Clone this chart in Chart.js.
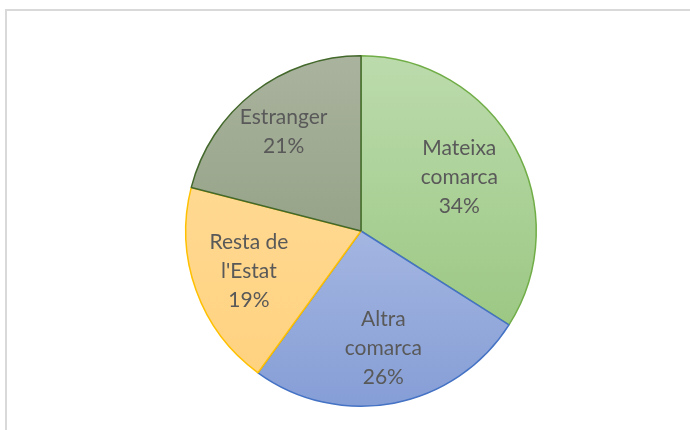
<!DOCTYPE html>
<html>
<head>
<meta charset="utf-8">
<script src="https://cdn.jsdelivr.net/npm/chart.js@4/dist/chart.umd.min.js"></script>
<style>
  html, body { margin: 0; padding: 0; background: #ffffff; }
  #wrap { width: 690px; height: 430px; position: relative; }
</style>
</head>
<body>
<div id="wrap"><canvas id="c" width="690" height="430"></canvas></div>
<script>
// Data
const categories = ["Mateixa comarca", "Altra comarca", "Resta de l'Estat", "Estranger"];
const labelLines = [["Mateixa", "comarca"], ["Altra", "comarca"], ["Resta de", "l'Estat"], ["Estranger"]];
const values = [34, 26, 19, 21];

// Styles
const gradTop = ["#bcdbad", "#c3cdec", "#ffdd9f", "#aab39e"];
const gradBottom = ["#92c277", "#859ed6", "#ffd17c", "#839473"];
const borderColors = ["#70ad47", "#4472c4", "#ffc000", "#43682b"];
const labelRadius = [0.64, 0.68, 0.68, 0.72];

function bg(ctx) {
  const chart = ctx.chart;
  const a = chart.chartArea;
  if (!a) return gradTop[ctx.dataIndex];
  const cy = (a.top + a.bottom) / 2;
  const r = Math.min(a.right - a.left, a.bottom - a.top) / 2;
  const g = chart.ctx.createLinearGradient(0, cy - r, 0, cy + r);
  g.addColorStop(0, gradTop[ctx.dataIndex]);
  g.addColorStop(1, gradBottom[ctx.dataIndex]);
  return g;
}

const framePlugin = {
  id: 'frame',
  beforeDraw(chart) {
    const c = chart.ctx;
    c.save();
    c.strokeStyle = '#d9d9d9';
    c.lineWidth = 2;
    c.beginPath();
    c.moveTo(6, 430);
    c.lineTo(6, 10);
    c.lineTo(690, 10);
    c.stroke();
    c.restore();
  }
};

const labelPlugin = {
  id: 'sliceLabels',
  afterDatasetsDraw(chart) {
    const c = chart.ctx;
    const meta = chart.getDatasetMeta(0);
    const total = values.reduce((a, b) => a + b, 0);
    c.save();
    c.fillStyle = '#595959';
    c.font = '21px Lato, "Open Sans", sans-serif';
    c.textAlign = 'center';
    c.textBaseline = 'middle';
    meta.data.forEach((el, i) => {
      const mid = (el.startAngle + el.endAngle) / 2;
      const rr = el.outerRadius * labelRadius[i];
      const x = el.x + Math.cos(mid) * rr;
      const y = el.y + Math.sin(mid) * rr;
      const lines = labelLines[i].concat([Math.round(values[i] / total * 100) + '%']);
      const lh = 29;
      const y0 = y - (lines.length - 1) * lh / 2;
      lines.forEach((t, k) => c.fillText(t, x, y0 + k * lh));
    });
    c.restore();
  }
};

new Chart(document.getElementById('c'), {
  type: 'pie',
  data: {
    labels: categories,
    datasets: [{
      data: values,
      backgroundColor: bg,
      borderColor: borderColors,
      borderWidth: 1.5,
      hoverOffset: 0
    }]
  },
  options: {
    responsive: false,
    animation: false,
    rotation: 0,
    layout: { padding: { top: 55, bottom: 23, left: 185, right: 153 } },
    plugins: {
      legend: { display: false },
      tooltip: { enabled: false }
    }
  },
  plugins: [framePlugin, labelPlugin]
});
</script>
</body>
</html>
